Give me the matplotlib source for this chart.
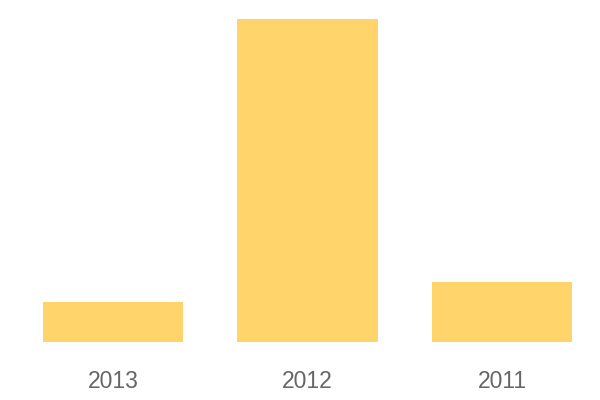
import matplotlib
matplotlib.use("Agg")
import matplotlib.pyplot as plt

years = ["2013", "2012", "2011"]
values = [40, 323, 60]

plt.rcParams['font.family'] = ['Liberation Sans', 'DejaVu Sans']

fig = plt.figure(figsize=(6, 4), dpi=100)
# axes placed in pixel terms: x 43..572, y 19..342 (from top)
ax = fig.add_axes([43/600, (400-342)/400, (572-43)/600, (342-19)/400])
ax.bar(range(len(years)), values, width=0.72, color="#FFD56B")
ax.set_xlim(-0.36, len(years) - 1 + 0.36)
ax.set_ylim(0, max(values))
ax.set_xticks(range(len(years)))
ax.set_xticklabels(years, fontsize=16.5, color="#666666")
ax.tick_params(axis="x", length=0, pad=20)
ax.set_yticks([])
for s in ax.spines.values():
    s.set_visible(False)

fig.savefig("out.png", dpi=100)
